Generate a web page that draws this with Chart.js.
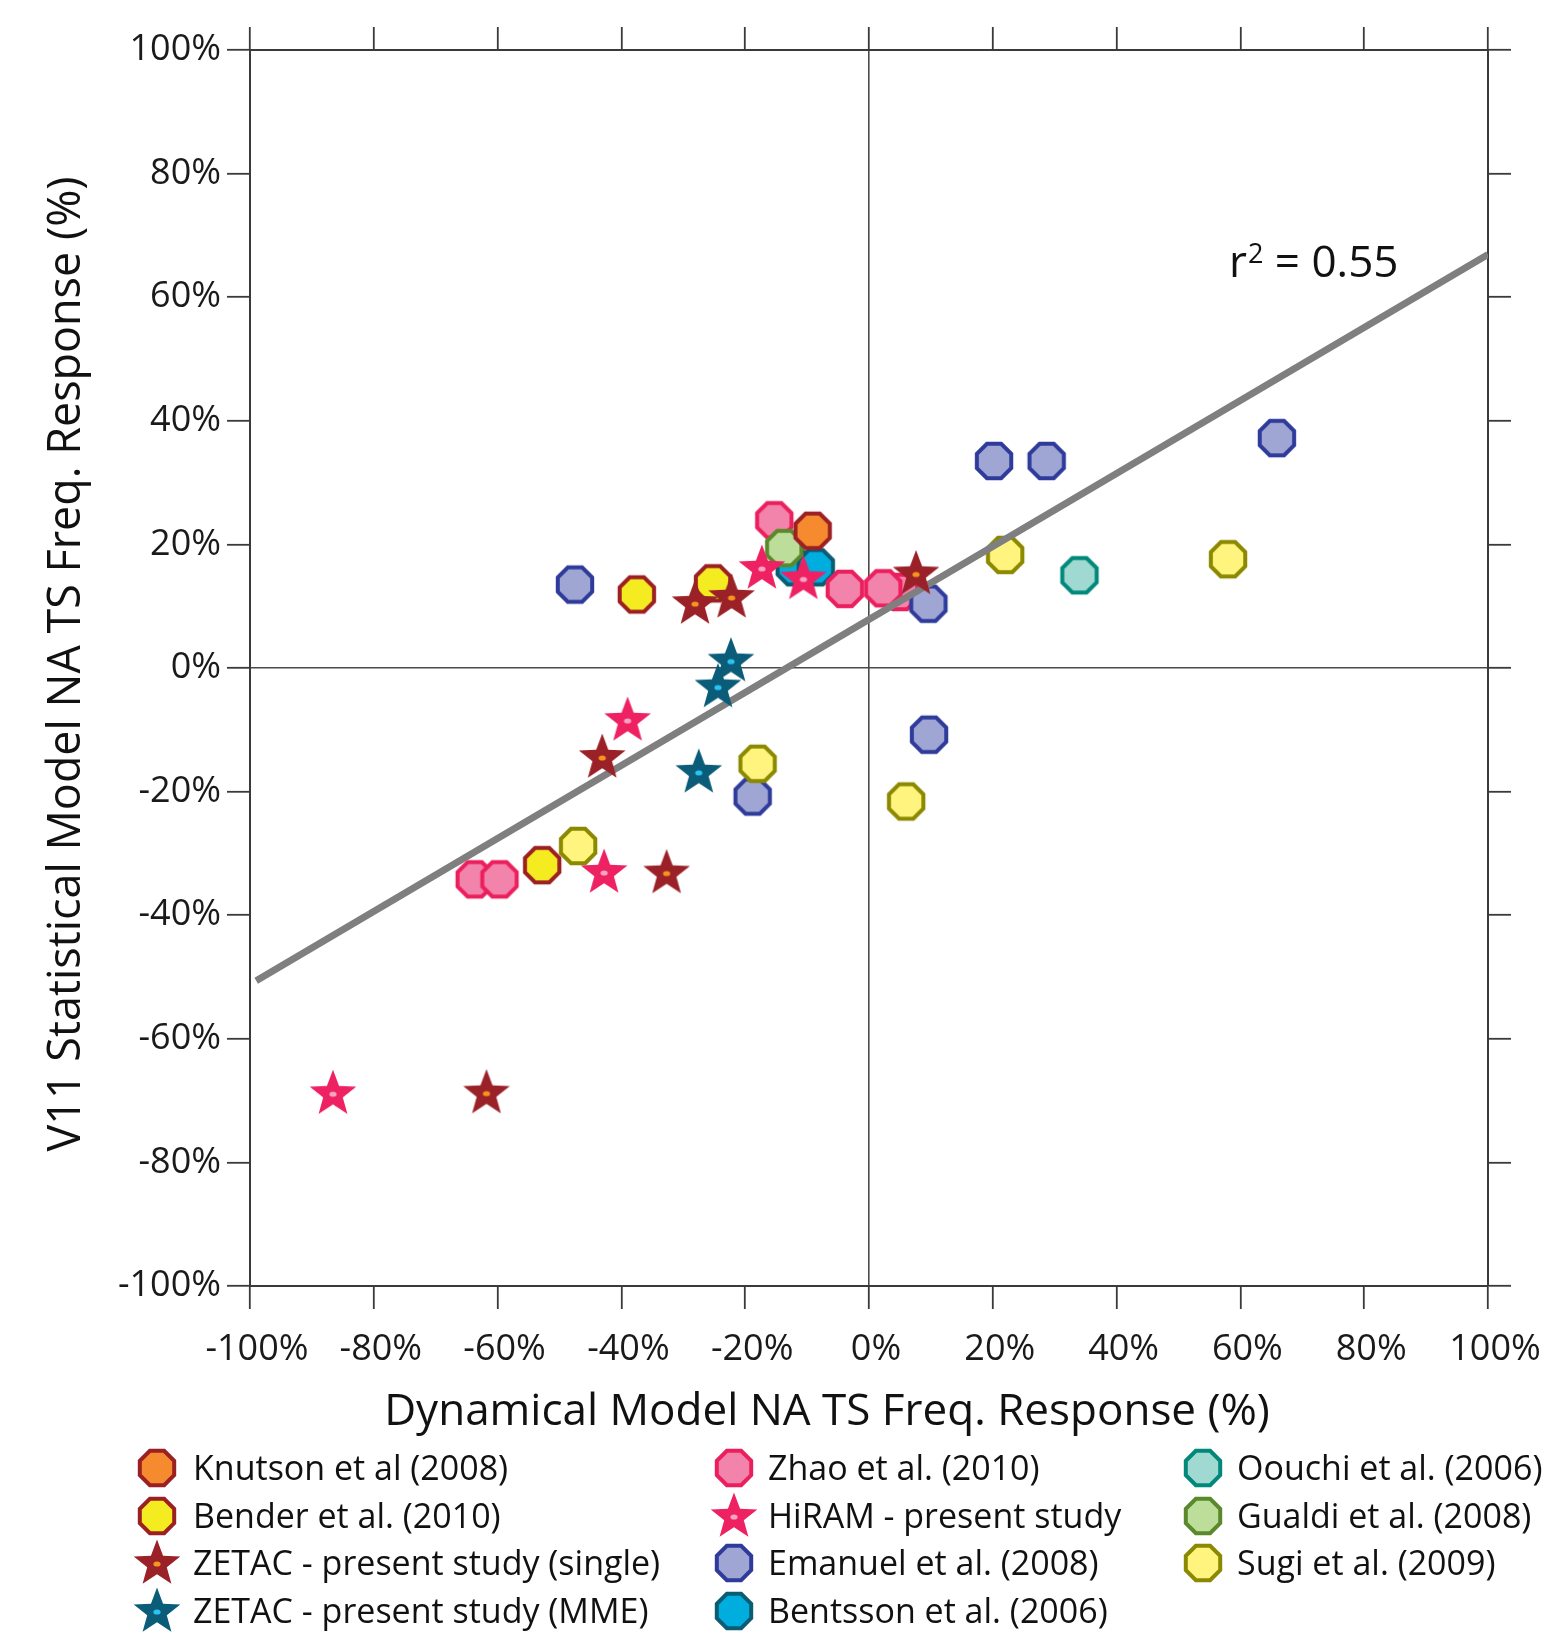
<!DOCTYPE html>
<html><head><meta charset="utf-8">
<script src="https://cdn.jsdelivr.net/npm/chart.js@4.4.1/dist/chart.umd.min.js"></script>
<style>html,body{margin:0;padding:0;background:#fff;}canvas{display:block;}</style>
</head><body>
<canvas id="c" width="1555" height="1634"></canvas>
<script>
// ---------------- data ----------------
const tickValues = [-100, -80, -60, -40, -20, 0, 20, 40, 60, 80, 100];
const xTitle = 'Dynamical Model NA TS Freq. Response (%)';
const yTitle = 'V11 Statistical Model NA TS Freq. Response (%)';

const knutsonX = [-9.1];
const knutsonY = [22.2];
const benderX = [-37.5, -25.2, -52.8];
const benderY = [11.9, 13.7, -31.9];
const zetacSingleX = [-28.1, -22.2, 7.6, -43.1, -32.7, -61.8];
const zetacSingleY = [10.5, 11.5, 15.3, -14.4, -33.1, -68.7];
const zetacMmeX = [-22.3, -24.4, -27.5];
const zetacMmeY = [1.2, -3.0, -16.8];
const zhaoX = [-15.3, -3.9, 5.0, 2.3, -63.7, -59.7];
const zhaoY = [23.9, 12.8, 12.3, 12.9, -34.2, -34.2];
const hiramX = [-17.3, -10.6, -39.0, -42.8, -86.6];
const hiramY = [16.2, 14.5, -8.4, -33.0, -68.8];
const emanuelX = [-47.5, 9.6, 20.2, 28.7, 65.9, 9.7, -18.8];
const emanuelY = [13.5, 10.4, 33.5, 33.5, 37.2, -10.8, -20.8];
const bentssonX = [-12.0, -8.6];
const bentssonY = [16.3, 16.3];
const oouchiX = [34.0];
const oouchiY = [15.0];
const gualdiX = [-13.7];
const gualdiY = [19.4];
const sugiX = [22.0, 58.0, 6.0, -18.0, -47.0];
const sugiY = [18.3, 17.6, -21.6, -15.5, -28.8];

const fitX = [-99, 100];
const fitY = [-50.6, 66.9];
const r2Text = ['r', '2', ' = 0.55'];

// ---------------- markers ----------------
function octagon(fill, stroke) {
  const s = 46, c = document.createElement('canvas');
  c.width = s; c.height = s;
  const g = c.getContext('2d');
  const R = 17.2 / Math.cos(Math.PI / 8);
  g.beginPath();
  for (let k = 0; k < 8; k++) {
    const a = Math.PI / 8 + k * Math.PI / 4;
    g.lineTo(s / 2 + R * Math.cos(a), s / 2 + R * Math.sin(a));
  }
  g.closePath();
  g.fillStyle = fill; g.fill();
  g.lineWidth = 4; g.strokeStyle = stroke; g.lineJoin = 'miter'; g.stroke();
  return c;
}
function star(fill, dot) {
  const s = 56, c = document.createElement('canvas');
  c.width = s; c.height = s;
  const g = c.getContext('2d');
  const R = 24.5, r = R * 0.42, cx = s / 2, cy = s / 2 + 1;
  g.beginPath();
  for (let k = 0; k < 10; k++) {
    const a = -Math.PI / 2 + k * Math.PI / 5;
    const rr = k % 2 === 0 ? R : r;
    g.lineTo(cx + rr * Math.cos(a), cy + rr * Math.sin(a));
  }
  g.closePath();
  g.fillStyle = fill; g.fill();
  g.beginPath();
  g.ellipse(cx, cy, 3.6, 2.6, 0, 0, Math.PI * 2);
  g.fillStyle = dot; g.fill();
  return c;
}

// layer: lower value is drawn on top
const series = [
  { name: 'Knutson et al (2008)', x: knutsonX, y: knutsonY, img: octagon('#f58a2e', '#9c1f24'), layer: 3 },
  { name: 'Bender et al. (2010)', x: benderX, y: benderY, img: octagon('#f4ec20', '#9c1f24'), layer: 4 },
  { name: 'ZETAC - present study (single)', x: zetacSingleX, y: zetacSingleY, img: star('#9a2127', '#f7941d'), layer: 1 },
  { name: 'ZETAC - present study (MME)', x: zetacMmeX, y: zetacMmeY, img: star('#0b5c79', '#2ac4f4'), layer: 1 },
  { name: 'Zhao et al. (2010)', x: zhaoX, y: zhaoY, img: octagon('#f283ab', '#ec1f5e'), layer: 4 },
  { name: 'HiRAM - present study', x: hiramX, y: hiramY, img: star('#ee2163', '#f5a3c3'), layer: 1 },
  { name: 'Emanuel et al. (2008)', x: emanuelX, y: emanuelY, img: octagon('#a0a6d4', '#2e3b9b'), layer: 3.5 },
  { name: 'Bentsson et al. (2006)', x: bentssonX, y: bentssonY, img: octagon('#00addf', '#0a5c73'), layer: 4 },
  { name: 'Oouchi et al. (2006)', x: oouchiX, y: oouchiY, img: octagon('#9fd9d1', '#00887a'), layer: 4 },
  { name: 'Gualdi et al. (2008)', x: gualdiX, y: gualdiY, img: octagon('#bddd9b', '#5a892b'), layer: 3 },
  { name: 'Sugi et al. (2009)', x: sugiX, y: sugiY, img: octagon('#fff47d', '#8b8900'), layer: 3 }
];

const datasets = series.map(s => ({
  type: 'scatter',
  label: s.name,
  data: s.x.map((v, i) => ({ x: v, y: s.y[i] })),
  pointStyle: s.img,
  pointRadius: 20,
  pointHoverRadius: 20,
  order: s.layer,
  clip: false
}));
datasets.push({
  type: 'line',
  label: 'fit',
  data: fitX.map((v, i) => ({ x: v, y: fitY[i] })),
  borderColor: '#7f7f7f',
  borderWidth: 7,
  borderCapStyle: 'butt',
  pointRadius: 0,
  fill: false,
  order: 2
});

// ---------------- scales ----------------
const FONT = '"Open Sans", "DejaVu Sans", sans-serif';
const AXIS = '#3a3a3a';
function setTicks(scale) { scale.ticks = tickValues.map(v => ({ value: v })); }
function axis(position, withLabels, size) {
  const horiz = position === 'top' || position === 'bottom';
  return {
    type: 'linear', position, min: -100, max: 100,
    afterBuildTicks: setTicks,
    afterFit: s => { if (horiz) s.height = size; else s.width = size; },
    ticks: {
      display: withLabels,
      callback: v => v + '%',
      font: { family: FONT, size: 36 },
      color: '#1a1a1a',
      padding: horiz ? 19 : 6,
      labelOffset: horiz ? 7 : 0,
      maxRotation: 0, autoSkip: false
    },
    grid: {
      drawOnChartArea: withLabels,
      color: c => (c.tick && c.tick.value === 0) ? '#4a4a4a' : 'rgba(0,0,0,0)',
      lineWidth: 1.6,
      tickColor: AXIS, tickWidth: 1.8, tickLength: 23
    },
    border: { display: true, color: AXIS, width: 2 }
  };
}

// ---------------- extra text & legend ----------------
function fitText(ctx, text, x, y, target) {
  const w = ctx.measureText(text).width;
  const k = Math.min(1, target / w);
  ctx.save(); ctx.translate(x, y); ctx.scale(k, 1); ctx.fillText(text, 0, 0); ctx.restore();
}
const decor = {
  id: 'decor',
  afterDraw(chart) {
    const ctx = chart.ctx;
    ctx.save();
    ctx.fillStyle = '#111';
    ctx.textBaseline = 'alphabetic';
    // x title
    ctx.font = '44px ' + FONT; ctx.textAlign = 'center';
    fitText(ctx, xTitle, 827, 1425, 905);
    // y title
    ctx.save(); ctx.translate(80, 664); ctx.rotate(-Math.PI / 2);
    ctx.font = '46px ' + FONT; fitText(ctx, yTitle, 0, 0, 975);
    ctx.restore();
    // r^2 label
    ctx.textAlign = 'left';
    let px = 1229; const py = 277;
    ctx.font = '44px ' + FONT; ctx.fillText(r2Text[0], px, py); px += ctx.measureText(r2Text[0]).width + 1;
    ctx.font = '27px ' + FONT; ctx.fillText(r2Text[1], px, py - 14); px += ctx.measureText(r2Text[1]).width;
    ctx.font = '44px ' + FONT; ctx.fillText(r2Text[2], px, py);
    // legend
    const colMarker = [157, 734, 1203], colText = [193, 768, 1237], rowY = [1468, 1516, 1563, 1611];
    ctx.font = '34px ' + FONT;
    series.forEach((s, i) => {
      const col = Math.floor(i / 4), row = i % 4;
      const img = s.img;
      ctx.drawImage(img, colMarker[col] - img.width / 2, rowY[row] - img.height / 2);
      ctx.fillStyle = '#111';
      ctx.fillText(s.name, colText[col], rowY[row] + 12);
    });
    ctx.restore();
  }
};

new Chart(document.getElementById('c'), {
  data: { datasets },
  options: {
    responsive: false,
    animation: false,
    events: [],
    devicePixelRatio: 1,
    layout: { padding: 0 },
    plugins: { legend: { display: false }, tooltip: { enabled: false }, title: { display: false } },
    scales: {
      x: axis('bottom', true, 348),
      y: axis('left', true, 250),
      x2: axis('top', false, 50),
      y2: axis('right', false, 67)
    }
  },
  plugins: [decor]
});
</script>
</body></html>
